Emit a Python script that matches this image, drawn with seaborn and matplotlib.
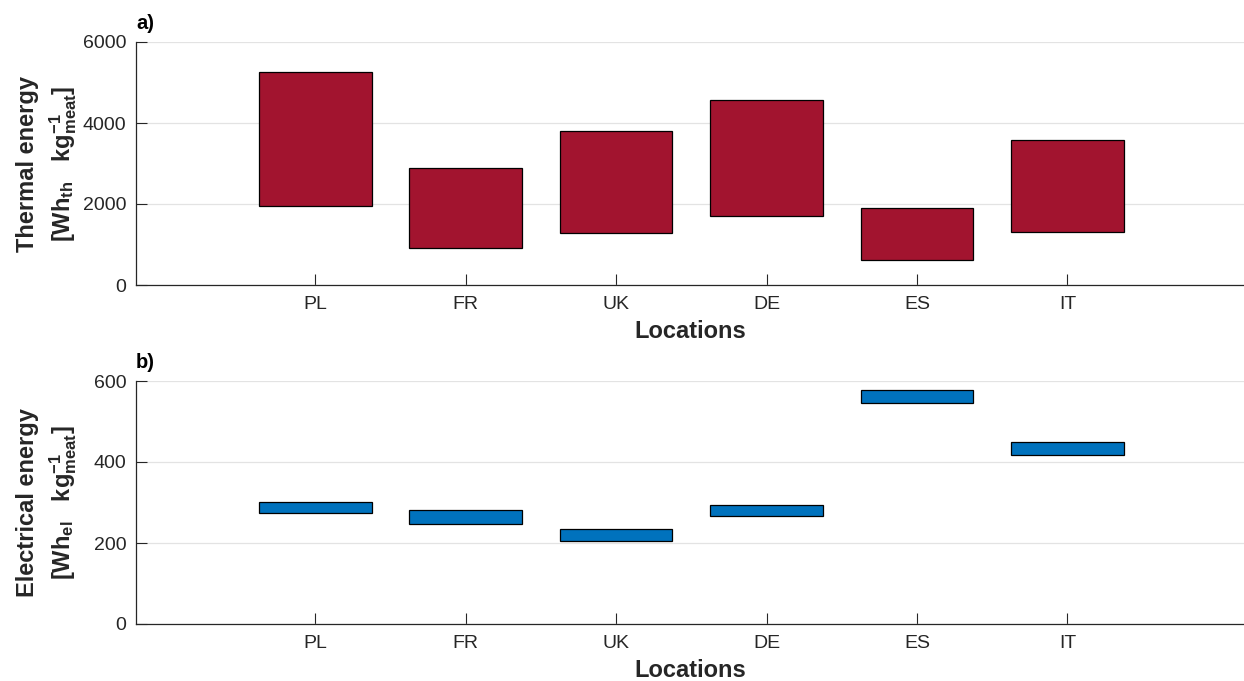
import matplotlib
matplotlib.use("Agg")
import matplotlib.pyplot as plt
import seaborn as sns
import pandas as pd

locations = ["PL", "FR", "UK", "DE", "ES", "IT"]
thermal_low = [1960, 920, 1290, 1705, 615, 1315]
thermal_high = [5250, 2880, 3810, 4570, 1900, 3580]
elec_low = [273, 248, 204, 267, 545, 418]
elec_high = [300, 281, 235, 295, 579, 449]

sns.set_theme(style="ticks")
plt.rcParams["font.family"] = ["Liberation Sans", "DejaVu Sans"]
plt.rcParams["mathtext.fontset"] = "custom"
plt.rcParams["mathtext.rm"] = "Liberation Sans:bold"
plt.rcParams["mathtext.it"] = "Liberation Sans:bold"
plt.rcParams["mathtext.bf"] = "Liberation Sans:bold"
plt.rcParams["mathtext.default"] = "bf"

W, H = 1244, 681
fig = plt.figure(figsize=(W / 100, H / 100), dpi=100)
axL = 136 / W
axW = (W - 136) / W
ax1 = fig.add_axes([axL, (H - 285) / H, axW, 243 / H])
ax2 = fig.add_axes([axL, (H - 624) / H, axW, 243 / H])

dark = "#262626"


def panel(ax, low, high, color, ymax, yticks, ylabel, tag):
    df = pd.DataFrame({
        "loc": locations,
        "height": [h - l for h, l in zip(high, low)],
    })
    sns.barplot(data=df, x="loc", y="height", bottom=low, color=color,
                saturation=1, width=0.75, edgecolor="black", linewidth=0.9,
                ax=ax, zorder=3)
    ax.set_xlim(-1.19, 6.173)
    ax.set_ylim(0, ymax)
    ax.set_yticks(yticks)
    ax.set_yticklabels([str(v) for v in yticks])
    ax.yaxis.grid(True, color="#e3e3e3", linewidth=0.9, zorder=0)
    ax.xaxis.grid(False)
    ax.set_axisbelow(True)
    for s in ["top", "right"]:
        ax.spines[s].set_visible(False)
    for s in ["left", "bottom"]:
        ax.spines[s].set_color(dark)
        ax.spines[s].set_linewidth(0.9)
    ax.tick_params(axis="both", direction="in", length=8, width=0.8,
                   color=dark, labelcolor=dark, labelsize=14, pad=8)
    ax.tick_params(axis="y", pad=7)
    ax.set_xlabel("Locations", fontsize=17, fontweight="bold", color=dark,
                  labelpad=5)
    ax.set_ylabel(ylabel, fontsize=17, fontweight="bold", color=dark,
                  linespacing=1.4)
    ax.yaxis.set_label_coords(-0.051, 0.5)
    ax.text(0.0, 1.035, tag, transform=ax.transAxes, ha="left", va="bottom",
            fontsize=14.5, fontweight="bold", color="black")


panel(ax1, thermal_low, thermal_high, "#A2142F", 6000, [0, 2000, 4000, 6000],
      "Thermal energy\n[Wh$_{th}$   kg$^{-1}_{meat}$]", "a)")
panel(ax2, elec_low, elec_high, "#0072BD", 600, [0, 200, 400, 600],
      "Electrical energy\n[Wh$_{el}$   kg$^{-1}_{meat}$]", "b)")

fig.savefig("out.png", dpi=100)
